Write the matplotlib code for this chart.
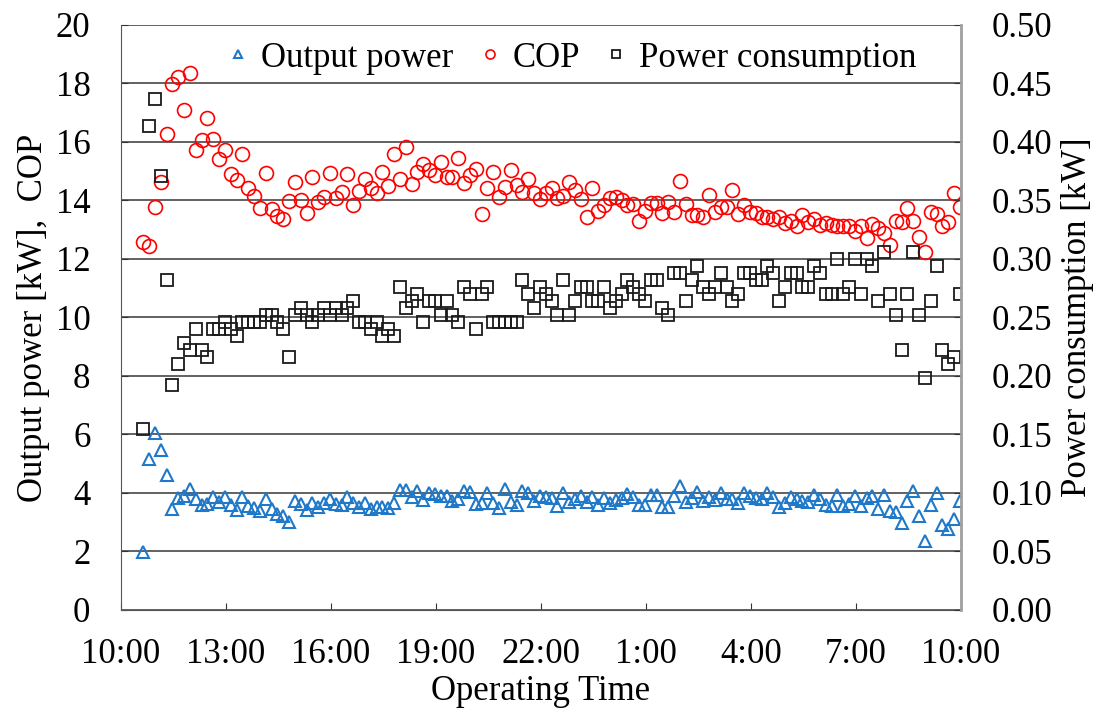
import matplotlib.pyplot as plt
import numpy as np
import pandas as pd

plt.rcParams['font.family'] = ['Liberation Serif', 'DejaVu Serif']

# logger samples every 10 minutes, first one at 10:38
times = pd.date_range('2000-01-01 10:38', periods=141, freq='10min')
t0 = pd.Timestamp('2000-01-01 10:00')

tick_labels = ['10:00', '13:00', '16:00', '19:00', '22:00', '1:00', '4:00', '7:00', '10:00']

output_power = [
    1.97, 5.16, 6.05, 5.48, 4.62, 3.46, 3.83, 3.90, 4.12, 3.78,
    3.58, 3.62, 3.87, 3.70, 3.87, 3.58, 3.42, 3.85, 3.56, 3.49,
    3.37, 3.78, 3.44, 3.29, 3.20, 3.00, 3.72, 3.63, 3.42, 3.65,
    3.51, 3.65, 3.78, 3.62, 3.58, 3.86, 3.66, 3.52, 3.64, 3.44,
    3.53, 3.53, 3.49, 3.66, 4.09, 4.10, 3.86, 4.08, 3.76, 3.99,
    3.97, 3.88, 3.90, 3.73, 3.80, 4.08, 4.03, 3.62, 3.67, 4.01,
    3.67, 3.47, 4.12, 3.70, 3.58, 4.08, 3.99, 3.72, 3.88, 3.85,
    3.84, 3.56, 4.00, 3.70, 3.81, 3.90, 3.70, 3.85, 3.60, 3.83,
    3.65, 3.76, 3.82, 3.95, 3.85, 3.58, 3.60, 3.92, 3.92, 3.53,
    3.53, 3.91, 4.23, 3.68, 3.84, 4.02, 3.73, 3.85, 3.76, 3.99,
    3.80, 3.80, 3.67, 3.99, 3.90, 3.83, 3.81, 4.00, 3.85, 3.53,
    3.67, 3.85, 3.78, 3.73, 3.68, 3.93, 3.81, 3.58, 3.56, 3.94,
    3.56, 3.62, 3.90, 3.56, 3.83, 3.90, 3.45, 3.94, 3.37, 3.35,
    2.96, 3.74, 4.08, 3.21, 2.37, 3.60, 3.99, 2.90, 2.78, 3.10,
    3.73,
]

cop = [
    12.59, 12.44, 13.78, 14.64, 16.28, 17.99, 18.21, 17.08, 18.37, 15.73,
    16.05, 16.81, 16.10, 15.41, 15.72, 14.90, 14.69, 15.58, 14.42, 14.14,
    13.74, 14.94, 13.72, 13.46, 13.38, 13.97, 14.64, 14.00, 13.56, 14.81,
    13.96, 14.12, 14.94, 14.07, 14.29, 14.90, 13.84, 14.34, 14.72, 14.42,
    14.25, 14.97, 14.51, 15.60, 14.73, 15.83, 14.56, 14.99, 15.26, 15.03,
    14.88, 15.33, 14.79, 14.79, 15.44, 14.59, 14.88, 15.06, 13.55, 14.44,
    14.96, 14.12, 14.47, 15.04, 14.54, 14.29, 14.74, 14.27, 14.04, 14.27,
    14.43, 14.10, 14.14, 14.62, 14.35, 14.05, 13.44, 14.44, 13.63, 13.84,
    14.10, 14.13, 14.03, 13.86, 13.89, 13.29, 13.65, 13.91, 13.91, 13.56,
    13.95, 13.61, 14.67, 13.88, 13.50, 13.49, 13.45, 14.19, 13.60, 13.79,
    13.77, 14.37, 13.55, 13.85, 13.61, 13.56, 13.45, 13.45, 13.37, 13.45,
    13.24, 13.29, 13.13, 13.50, 13.28, 13.38, 13.15, 13.22, 13.15, 13.11,
    13.11, 13.13, 12.95, 13.11, 12.70, 13.21, 13.06, 12.90, 12.47, 13.29,
    13.26, 13.75, 13.31, 12.76, 12.24, 13.61, 13.53, 13.11, 13.25, 14.27,
    13.78,
]

power_consumption = [
    0.155, 0.414, 0.437, 0.371, 0.282, 0.192, 0.210, 0.228, 0.222, 0.240,
    0.222, 0.216, 0.240, 0.240, 0.246, 0.240, 0.234, 0.246, 0.246, 0.246,
    0.246, 0.252, 0.252, 0.246, 0.240, 0.216, 0.252, 0.258, 0.252, 0.246,
    0.252, 0.258, 0.252, 0.258, 0.252, 0.258, 0.264, 0.246, 0.246, 0.240,
    0.246, 0.234, 0.240, 0.234, 0.276, 0.258, 0.264, 0.270, 0.246, 0.264,
    0.264, 0.252, 0.264, 0.252, 0.246, 0.276, 0.270, 0.240, 0.270, 0.276,
    0.246, 0.246, 0.246, 0.246, 0.246, 0.282, 0.270, 0.258, 0.276, 0.270,
    0.264, 0.252, 0.282, 0.252, 0.264, 0.276, 0.276, 0.264, 0.264, 0.276,
    0.258, 0.264, 0.270, 0.282, 0.276, 0.270, 0.264, 0.282, 0.282, 0.258,
    0.252, 0.288, 0.288, 0.264, 0.282, 0.294, 0.276, 0.270, 0.276, 0.288,
    0.276, 0.264, 0.270, 0.288, 0.288, 0.282, 0.282, 0.294, 0.288, 0.264,
    0.276, 0.288, 0.288, 0.276, 0.276, 0.294, 0.288, 0.270, 0.270, 0.300,
    0.270, 0.276, 0.300, 0.270, 0.300, 0.294, 0.264, 0.306, 0.270, 0.252,
    0.222, 0.270, 0.306, 0.252, 0.198, 0.264, 0.294, 0.222, 0.210, 0.216,
    0.270,
]

hours = (times - t0) / pd.Timedelta(hours=1)

fig = plt.figure(figsize=(11.06, 7.13), dpi=100)
ax = fig.add_axes([0.1094, 0.1445, 0.7596, 0.8205])
ax2 = ax.twinx()

h1, = ax.plot(hours, output_power, linestyle='none', marker='^', markersize=8.5,
              markerfacecolor='none', markeredgecolor='#1f78c8', markeredgewidth=1.5,
              label='Output power')
h2, = ax.plot(hours, cop, linestyle='none', marker='o', markersize=10,
              markerfacecolor='none', markeredgecolor='#ff0000', markeredgewidth=1.2,
              label='COP')
h3, = ax2.plot(hours, power_consumption, linestyle='none', marker='s', markersize=9,
               markerfacecolor='none', markeredgecolor='#1a1a1a', markeredgewidth=1.3,
               label='Power consumption')

ax.set_xlim(0, 24)
ax.set_ylim(0, 20)
ax2.set_ylim(0, 0.5)
ax.set_xticks(np.arange(0, 25, 3))
ax.set_xticklabels(tick_labels)
ax.set_yticks(np.arange(0, 21, 2))
ax2.set_yticks(np.arange(0, 0.51, 0.05))
ax2.set_yticklabels([f'{v:.2f}' for v in np.arange(0, 0.51, 0.05)])

ax.yaxis.grid(True, color='#555555', linewidth=1.3)
ax.set_axisbelow(True)

fs = 25
for a in (ax, ax2):
    a.tick_params(direction='in', labelsize=fs, length=5, width=0.8, colors='#333333',
                  labelcolor='black')
    a.spines['top'].set_visible(False)
ax.tick_params(axis='x', pad=20)
ax.tick_params(axis='y', pad=22)
ax2.tick_params(axis='y', pad=22)
ax2.spines['right'].set_color('#a0a0a0')
ax2.spines['right'].set_linewidth(2)
ax.spines['left'].set_color('#555555')
ax.spines['bottom'].set_color('#555555')
ax2.spines['left'].set_visible(False)
ax2.spines['bottom'].set_visible(False)

ax.set_xlabel('Operating Time', fontsize=fs, labelpad=3)
ax.set_ylabel('Output power [kW],  COP', fontsize=fs, labelpad=4)
ax2.set_ylabel('Power consumption [kW]', fontsize=fs, labelpad=6)

ax2.legend(handles=[h1, h2, h3], loc='upper center', bbox_to_anchor=(0.537, 1.025),
           ncol=3, frameon=False, fontsize=fs, markerscale=0.65,
           handlelength=0.6, handletextpad=0.35, columnspacing=0.75)

fig.savefig('out.png', dpi=100)
